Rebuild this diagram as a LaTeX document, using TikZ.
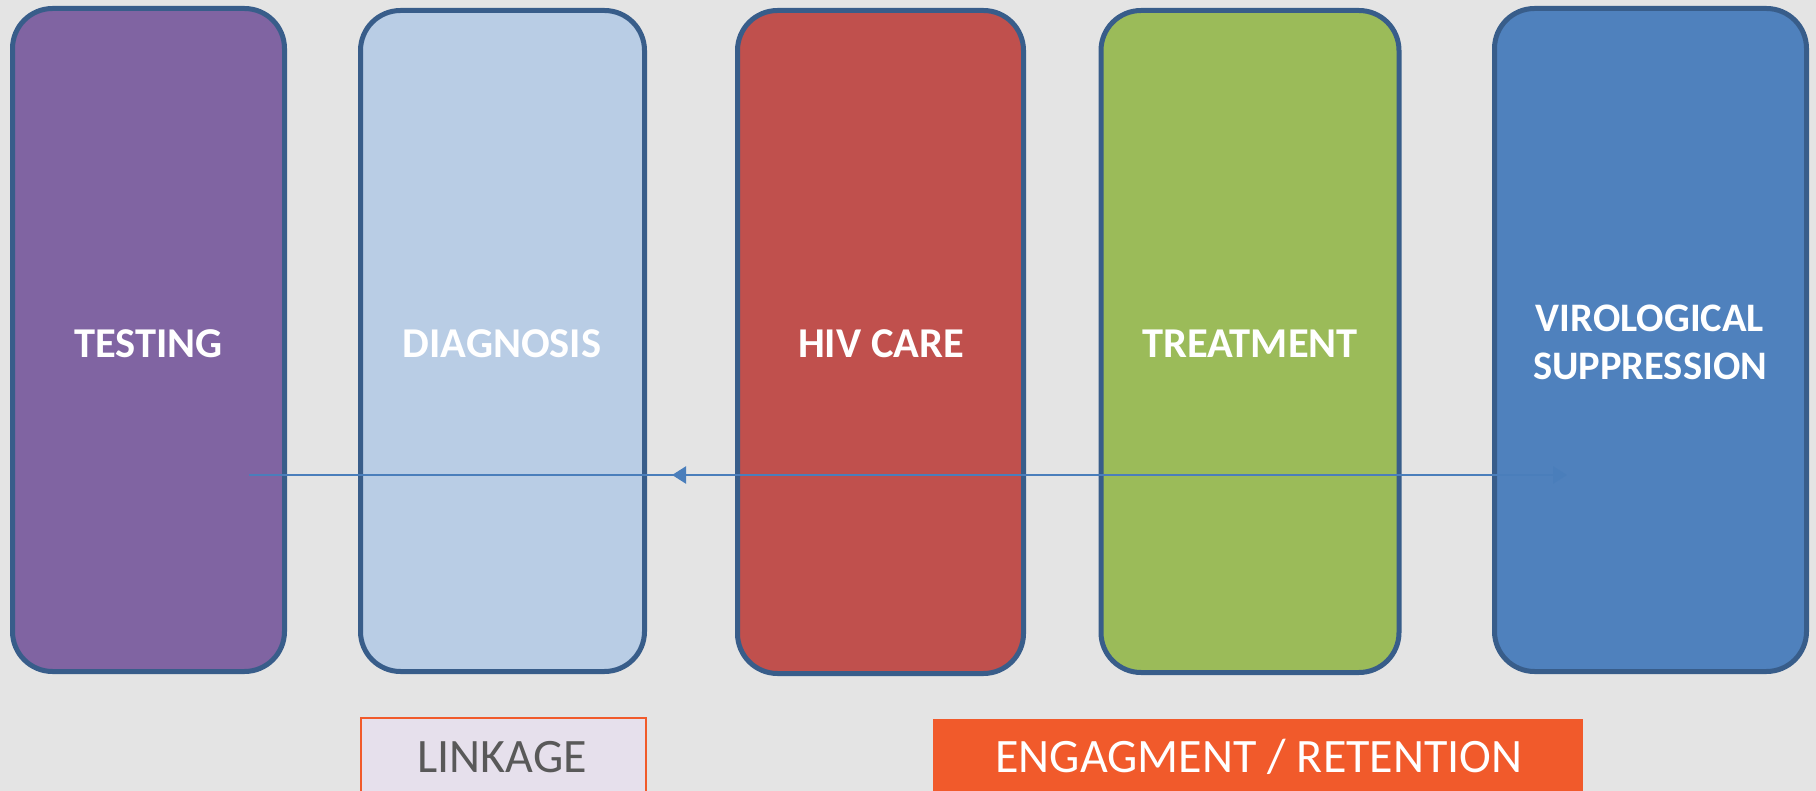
\documentclass[tikz,border=0pt]{standalone}
\usepackage{fontspec}
\setmainfont{Carlito}
\usetikzlibrary{arrows.meta,decorations.markings}
\definecolor{bgc}{HTML}{E4E4E4}
\definecolor{edgec}{HTML}{385D8A}
\definecolor{cpurple}{HTML}{8064A2}
\definecolor{clblue}{HTML}{B9CDE5}
\definecolor{cred}{HTML}{C0504D}
\definecolor{cgreen}{HTML}{9BBB59}
\definecolor{cblue}{HTML}{4F81BD}
\definecolor{carrow}{HTML}{4A7EBB}
\definecolor{corange}{HTML}{F15A2B}
\definecolor{clav}{HTML}{E6E0EC}
\definecolor{ctext}{HTML}{595959}
\tikzset{
  stage/.style={draw=edgec,line width=5pt,rounded corners=40pt,inner sep=0pt},
  stagetext/.style={inner sep=0pt,text=white,font=\fontsize{42.5}{48}\selectfont\bfseries,align=center,yshift=-3.5pt},
  phase/.style={inner sep=0pt,font=\fontsize{48}{54}\selectfont,align=center},
}
\begin{document}
\begin{tikzpicture}[x=1pt,y=-1pt]
\fill[bgc] (0,0) rectangle (1816,791);
\useasboundingbox (0,0) rectangle (1816,791);
\node[stage,fill=cpurple,minimum width=272pt,minimum height=663pt] (testing) at (148.5,340) {};
\node[stage,fill=clblue,minimum width=284pt,minimum height=661pt] (diagnosis) at (502.5,341) {};
\node[stage,fill=cred,minimum width=286pt,minimum height=663pt] (care) at (880.5,342) {};
\node[stage,fill=cgreen,minimum width=298pt,minimum height=662pt] (treatment) at (1250,341.5) {};
\node[stage,fill=cblue,minimum width=312pt,minimum height=663pt] (viro) at (1650.5,340) {};
\node[stagetext] (testingt) at (testing.center) {TESTING};
\node[stagetext] (diagnosist) at (502,340) {DIAGNOSIS};
\node[stagetext] (caret) at (881,340) {HIV CARE};
\node[stagetext] (treatmentt) at (1250,340) {TREATMENT};
\node[stagetext,font=\fontsize{40.5}{48}\selectfont\bfseries] (virot) at (1650,339) {VIROLOGICAL\\SUPPRESSION};
\coordinate (astart) at (249,475);
\coordinate (aend) at (1567,475);
\draw[carrow,line width=2.5pt,-{Triangle[length=14pt,width=17pt]},
  postaction={decorate},
  decoration={markings,mark=at position 0.321 with {\arrowreversed{Triangle[length=14pt,width=17pt]}}}]
  (astart) -- (aend);
\node[phase,draw=corange,line width=2pt,fill=clav,minimum width=285pt,minimum height=90pt,anchor=north west] (linkage) at (360,717) {};
\node[phase,text=ctext] (linktext) at (502,757) {LINKAGE};
\node[phase,fill=corange,minimum width=650pt,minimum height=80pt,anchor=north west] (engage) at (933,719) {};
\node[phase,text=white] (engtext) at (1259,757) {ENGAGMENT / RETENTION};
\end{tikzpicture}
\end{document}
